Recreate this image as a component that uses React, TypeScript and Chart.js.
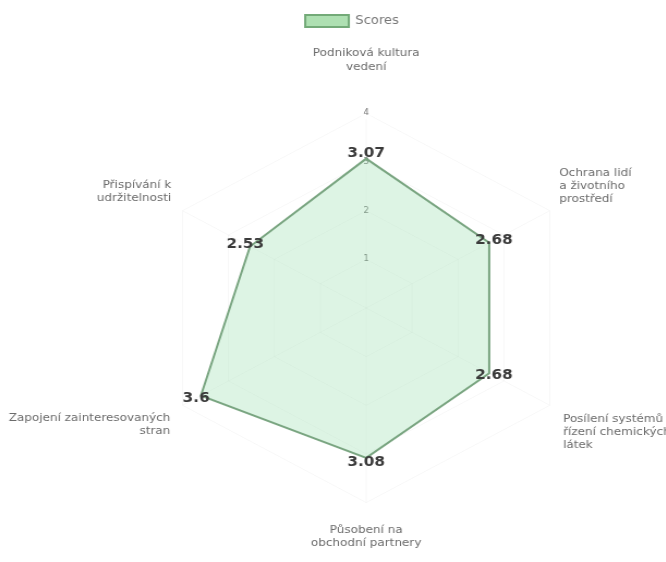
import React, { useEffect, useRef } from "react";
import { Chart, registerables } from "chart.js";

Chart.register(...registerables);

// ---- data ----
const categories: string[][] = [
  ["Podniková kultura", "vedení"],
  ["Ochrana lidí", "a životního", "prostředí"],
  ["Posílení systémů", "řízení chemických", "látek"],
  ["Působení na", "obchodní partnery"],
  ["Zapojení zainteresovaných", "stran"],
  ["Přispívání k", "udržitelnosti"],
];
const scores: number[] = [3.07, 2.68, 2.68, 3.08, 3.6, 2.53];
const seriesName = "Scores";
const scaleMin = 0;
const scaleMax = 4;
const tickStep = 1;

// ---- style ----
const FONT = "'DejaVu Sans', sans-serif";
const INNER_W = 714; // drawing buffer
const INNER_H = 555;
const STRETCH_X = 1.09; // reference picture is a little wider than tall
const OFFSET_X = -37;
const OFFSET_Y = 5;
const LABEL_PADS = [34, 4, 8, 15, 7, 6];

const valueLabels = {
  id: "valueLabels",
  afterDatasetsDraw(chart: any) {
    const ctx = chart.ctx;
    const r = chart.scales.r;
    chart.data.datasets.forEach((ds: any, di: number) => {
      const meta = chart.getDatasetMeta(di);
      meta.data.forEach((pt: any, i: number) => {
        const dx = pt.x - r.xCenter;
        const dy = pt.y - r.yCenter;
        const len = Math.sqrt(dx * dx + dy * dy) || 1;
        ctx.save();
        ctx.font = `bold 14px ${FONT}`;
        ctx.fillStyle = "#3a3a3a";
        ctx.textAlign = "center";
        ctx.textBaseline = "middle";
        ctx.fillText(String(ds.data[i]), pt.x + (dx / len) * 5, pt.y + (dy / len) * 5);
        ctx.restore();
      });
    });
  },
};

export default function App() {
  const ref = useRef<HTMLCanvasElement | null>(null);
  useEffect(() => {
    if (!ref.current) return;
    Chart.defaults.font.family = FONT;
    const chart = new Chart(ref.current, {
      type: "radar",
      data: {
        labels: categories,
        datasets: [
          {
            label: seriesName,
            data: scores,
            backgroundColor: "rgba(150, 222, 172, 0.32)",
            borderColor: "rgba(115, 160, 122, 0.95)",
            borderWidth: 2,
            pointRadius: 0,
            pointHoverRadius: 0,
            fill: true,
          },
        ],
      },
      options: {
        animation: false,
        responsive: false,
        devicePixelRatio: 1,
        plugins: {
          legend: {
            position: "top",
            labels: {
              color: "#777",
              font: { size: 12, family: FONT },
              generateLabels: () => [
                {
                  text: seriesName,
                  fillStyle: "rgba(160, 218, 165, 0.85)",
                  strokeStyle: "rgba(115, 170, 120, 1)",
                  lineWidth: 2,
                  fontColor: "#777",
                  datasetIndex: 0,
                  hidden: false,
                },
              ],
            },
          },
          tooltip: { enabled: false },
        },
        scales: {
          r: {
            min: scaleMin,
            max: scaleMax,
            ticks: {
              stepSize: tickStep,
              color: "#777",
              font: { size: 8, family: FONT },
              backdropColor: "rgba(255,255,255,0.6)",
            },
            grid: { color: "rgba(0,0,0,0.035)" },
            angleLines: { color: "rgba(0,0,0,0.035)" },
            pointLabels: {
              color: "#6b6b6b",
              padding: (c: any) => LABEL_PADS[c.index] ?? 10,
              font: { size: 11, family: FONT },
            },
          },
        },
      },
      plugins: [valueLabels],
    });
    return () => chart.destroy();
  }, []);
  return (
    <div
      style={{
        position: "fixed",
        left: 0,
        top: 0,
        width: "666px",
        height: "562px",
        overflow: "hidden",
        background: "#fff",
      }}
    >
      <canvas
        ref={ref}
        width={INNER_W}
        height={INNER_H}
        style={{
          position: "absolute",
          left: OFFSET_X + "px",
          top: OFFSET_Y + "px",
          width: INNER_W * STRETCH_X + "px",
          height: INNER_H + "px",
          display: "block",
        }}
      />
    </div>
  );
}
